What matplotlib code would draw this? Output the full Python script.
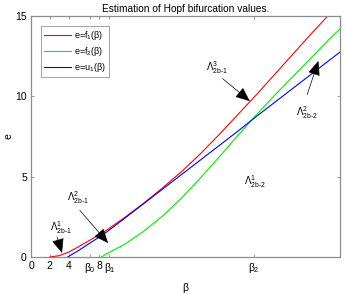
import matplotlib
matplotlib.use("Agg")
import matplotlib.pyplot as plt

# values
f1_beta = [2, 3, 4, 5, 6, 7, 8, 10, 12, 14, 16, 18, 20, 22, 24, 26, 28, 30, 31.6]
f1_e = [0, 0.08, 0.3, 0.62, 0.95, 1.3, 1.65, 2.47, 3.35, 4.3, 5.3, 6.4, 7.6, 8.85, 10.1, 11.4, 12.7, 14.0, 15.0]

f2_beta = [7.5, 8, 10, 12, 14, 16, 18, 20, 22, 24, 26, 28, 30, 32, 33.2]
f2_e = [0, 0.18, 0.8, 1.6, 2.55, 3.65, 4.9, 6.2, 7.55, 8.85, 10.1, 11.3, 12.5, 13.7, 14.35]

u1_beta = [3.9, 5, 6, 7, 8, 10, 12, 14, 16, 18, 20, 22, 24, 26, 28, 30, 32, 33]
u1_e = [0, 0.38, 0.76, 1.14, 1.53, 2.42, 3.32, 4.22, 5.12, 6.02, 6.92, 7.82, 8.75, 9.65, 10.55, 11.45, 12.35, 12.8]

xtick_pos = [0, 2, 4, 6.3, 7.25, 8.35, 23.7]
xtick_lab = ["0", "2", "4", r"$\beta_0$", "8", r"$\beta_1$", r"$\beta_2$"]
ytick_pos = [0, 5, 10, 15]

# annotation labels: (text, text position, arrow tail, arrow tip)
notes = [
    (r"$\Lambda^1_{2b\text{-}1}$", (2.0, 1.8), (2.77, 1.24), (3.3, 0.25)),
    (r"$\Lambda^2_{2b\text{-}1}$", (3.8, 3.7), (5.2, 2.9), (8.2, 0.87)),
    (r"$\Lambda^3_{2b\text{-}1}$", (18.6, 11.8), (20.4, 11.1), (23.3, 9.7)),
    (r"$\Lambda^2_{2b\text{-}2}$", (28.2, 9.0), (29.4, 10.1), (30.6, 12.2)),
    (r"$\Lambda^1_{2b\text{-}2}$", (22.7, 4.7), None, None),
]

plt.rcParams["font.family"] = "Liberation Sans"
plt.rcParams["mathtext.fontset"] = "custom"
plt.rcParams["mathtext.rm"] = "Liberation Sans"
plt.rcParams["mathtext.it"] = "Liberation Sans"
plt.rcParams["mathtext.bf"] = "Liberation Sans:bold"

GRAY = "#8c8c8c"

fig = plt.figure(figsize=(3.45, 2.94), dpi=100)
ax = fig.add_axes([0.0899, 0.1259, 0.8956, 0.8197])

ax.plot(f1_beta, f1_e, color="#ff0000", lw=0.8, label=r"e=f$_1$(β)")
ax.plot(f2_beta, f2_e, color="#00ee00", lw=0.8, label=r"e=f$_2$(β)")
ax.plot(u1_beta, u1_e, color="#0000ff", lw=0.8, label=r"e=u$_1$(β)")

for label, tpos, tail, tip in notes:
    ax.text(tpos[0], tpos[1], label, fontsize=7, ha="left", va="center")
    if tail is not None:
        ax.annotate("", xy=tip, xytext=tail,
                    arrowprops=dict(arrowstyle="-|>,head_length=0.9,head_width=0.38",
                                    color="k", lw=0.5, shrinkA=0, shrinkB=0))

ax.set_xlim(0, 32.9)
ax.set_ylim(0, 15)
ax.set_xticks(xtick_pos)
ax.set_xticklabels(xtick_lab, fontsize=7.5)
ax.set_yticks(ytick_pos)
ax.set_yticklabels([str(v) for v in ytick_pos], fontsize=7.5)
ax.tick_params(direction="in", length=2.5, width=0.6, color=GRAY,
               top=True, right=True, pad=3)
for spine in ax.spines.values():
    spine.set_color(GRAY)
    spine.set_linewidth(0.9)

ax.set_xlabel("β", fontsize=7.5, labelpad=6)
ax.set_ylabel("e", fontsize=7.5, labelpad=1)
ax.set_title("Estimation of Hopf bifurcation values.", fontsize=7.3, pad=3)

leg = ax.legend(loc="upper left", bbox_to_anchor=(0.032, 0.96), fontsize=6.5,
                frameon=True, fancybox=False, handlelength=3.0,
                borderpad=0.35, labelspacing=0.35, handletextpad=0.3,
                borderaxespad=0)
leg.get_frame().set_edgecolor(GRAY)
leg.get_frame().set_linewidth(0.7)

fig.savefig("out.png", dpi=100, facecolor="white")
